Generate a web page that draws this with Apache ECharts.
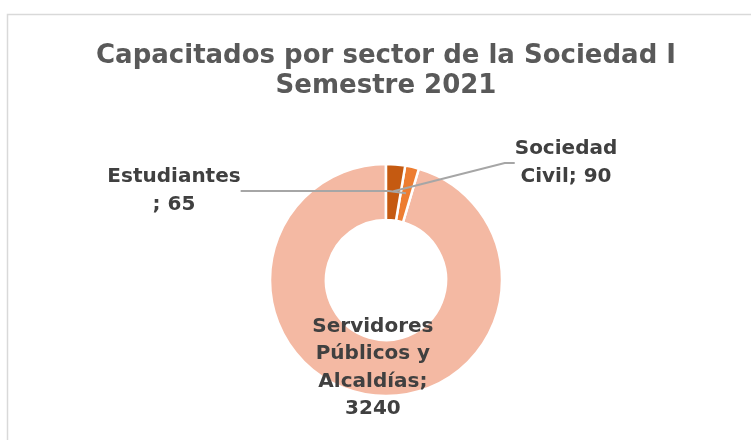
<!DOCTYPE html>
<html>
<head>
<meta charset="utf-8">
<script src="https://cdn.jsdelivr.net/npm/echarts@6/dist/echarts.min.js"></script>
<style>
    html, body {margin: 0; padding: 0; background: #fff;}
    #main {width: 751px; height: 440px;}
</style>
</head>
<body>
<div id="main"></div>
<script>
// orden al revés y en sentido antihorario: misma figura que Excel
var sectores = ['Servidores\nPúblicos y\nAlcaldías', 'Estudiantes', 'Sociedad\nCivil'];
var capacitados = [3240, 65, 90];
var colores = ['#F4B9A3', '#ED7D31', '#C55A11'];

var titulo = 'Capacitados por sector de la Sociedad I\nSemestre 2021';
var fuente = 'DejaVu Sans';

// donde van las etiquetas de fuera (Excel las puso a mano)
var posEtiquetas = [
    null,
    {x: 174, y: 191},
    {x: 566, y: 163}
];

var centro = [386, 280];
var radio = [60, 116];
var radioGuias = [60, 89]; // las líneas de Excel llegan a mitad del anillo

var myChart = echarts.init(document.getElementById('main'));

// serie 1: la dona visible; serie 2: copia transparente encima,
// solo para que etiquetas y líneas guía queden por encima de las porciones
var datosDona = sectores.map(function (nombre, i) {
    return {name: nombre, value: capacitados[i], itemStyle: {color: colores[i]}};
});

var datosEtiquetas = sectores.map(function (nombre, i) {
    var item = {name: nombre, value: capacitados[i]};
    if (i === 0) {
        item.label = {position: 'inside'};
        item.labelLine = {show: false};
    }
    if (i === 1) {
        item.labelLine = {length2: 148};
    }
    return item;
});

myChart.setOption({
    animation: false,
    title: {
        text: titulo,
        left: 381,
        top: 36,
        textAlign: 'center',
        textStyle: {
            fontFamily: fuente,
            fontSize: 26,
            fontWeight: 'bold',
            color: '#595959',
            lineHeight: 30
        }
    },
    graphic: [{
        type: 'rect',
        shape: {x: 7.5, y: 14.5, width: 900, height: 600},
        style: {fill: 'none', stroke: '#D9D9D9', lineWidth: 1.5},
        silent: true
    }],
    series: [
        {
            type: 'pie',
            z: 2,
            center: centro,
            radius: radio,
            startAngle: 90,
            clockwise: false,
            label: {show: false},
            labelLine: {show: false},
            itemStyle: {
                borderColor: '#fff',
                borderWidth: 2.5
            },
            data: datosDona
        },
        {
            type: 'pie',
            z: 5,
            silent: true,
            center: centro,
            radius: radioGuias,
            startAngle: 90,
            clockwise: false,
            avoidLabelOverlap: false,
            itemStyle: {
                color: 'rgba(0,0,0,0)',
                borderWidth: 0
            },
            label: {
                show: true,
                fontFamily: fuente,
                fontSize: 20,
                fontWeight: 'bold',
                color: '#404040',
                lineHeight: 27.5,
                align: 'center',
                formatter: function (p) {
                    if (p.dataIndex === 1) return p.name + '\n; ' + p.value;
                    if (p.dataIndex === 0) return p.name + ';\n' + p.value;
                    return p.name + '; ' + p.value;
                }
            },
            labelLine: {
                show: true,
                length: 10,
                length2: 10,
                lineStyle: {color: '#A6A6A6', width: 2}
            },
            labelLayout: function (params) {
                var pos = posEtiquetas[params.dataIndex];
                if (!pos) return {dx: -2, dy: 11};
                return {x: pos.x, y: pos.y, align: 'center', verticalAlign: 'middle'};
            },
            data: datosEtiquetas
        }
    ]
});
</script>
</body>
</html>
